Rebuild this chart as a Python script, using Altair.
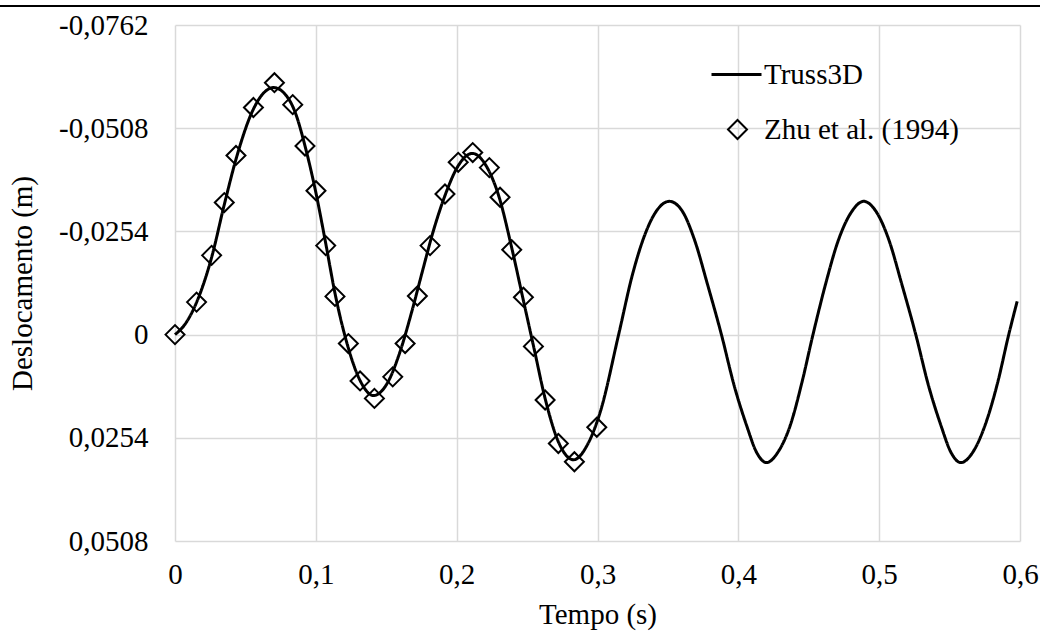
import altair as alt
import pandas as pd

# Zhu et al. (1994) reference points (time s, displacement m)
zhu_t = [0.0, 0.0153, 0.026, 0.035, 0.0433, 0.0557, 0.0706, 0.0836, 0.0923, 0.1001,
         0.107, 0.1136, 0.1231, 0.1314, 0.1416, 0.1546, 0.1634, 0.1721, 0.1811, 0.1917,
         0.2011, 0.2114, 0.2232, 0.2308, 0.2391, 0.2474, 0.2545, 0.2628, 0.2722, 0.2836,
         0.2995]
zhu_v = [0.0, -0.0080, -0.0195, -0.0325, -0.0441, -0.0559, -0.0620, -0.0566, -0.0464, -0.0354,
         -0.0219, -0.0094, 0.0022, 0.0114, 0.0157, 0.0104, 0.0022, -0.0095, -0.0219, -0.0346,
         -0.0424, -0.0448, -0.0411, -0.0338, -0.0209, -0.0092, 0.0029, 0.0161, 0.0268, 0.0313,
         0.0228]

# Truss3D curve (time s, displacement m)
truss_t = [0.000, 0.008, 0.016, 0.026, 0.035, 0.044, 0.055, 0.063, 0.070, 0.077,
           0.085, 0.093, 0.100, 0.107, 0.114, 0.122, 0.131, 0.141, 0.151, 0.160,
           0.168, 0.176, 0.183, 0.192, 0.201, 0.211, 0.221, 0.230, 0.239, 0.247,
           0.255, 0.263, 0.272, 0.283, 0.293, 0.302, 0.315, 0.325, 0.333, 0.342,
           0.351, 0.360, 0.369, 0.378, 0.388, 0.397, 0.406, 0.413, 0.420, 0.428,
           0.437, 0.445, 0.453, 0.462, 0.471, 0.480, 0.489, 0.498, 0.507, 0.516,
           0.526, 0.535, 0.544, 0.551, 0.558, 0.566, 0.575, 0.584, 0.592, 0.598]
truss_v = [0.0000, -0.0030, -0.0085, -0.0190, -0.0320, -0.0440, -0.0550, -0.0595, -0.0608, -0.0596,
           -0.0550, -0.0455, -0.0350, -0.0225, -0.0095, 0.0020, 0.0110, 0.0150, 0.0118, 0.0040,
           -0.0055, -0.0160, -0.0250, -0.0345, -0.0415, -0.0446, -0.0415, -0.0340, -0.0215, -0.0090,
           0.0035, 0.0160, 0.0262, 0.0308, 0.0270, 0.0190, 0.0000, -0.0150, -0.0240, -0.0305,
           -0.0328, -0.0305, -0.0232, -0.0125, 0.0000, 0.0125, 0.0225, 0.0290, 0.0315, 0.0290,
           0.0222, 0.0120, 0.0000, -0.0125, -0.0232, -0.0300, -0.0328, -0.0302, -0.0232, -0.0125,
           0.0000, 0.0125, 0.0225, 0.0290, 0.0315, 0.0292, 0.0225, 0.0120, 0.0000, -0.0082]

x_ticks = [0, 0.1, 0.2, 0.3, 0.4, 0.5, 0.6]
y_ticks = [-0.0762, -0.0508, -0.0254, 0, 0.0254, 0.0508]

FONT = "Liberation Serif"
FS = 29

truss = pd.DataFrame({"t": truss_t, "v": truss_v, "serie": "Truss3D"})
zhu = pd.DataFrame({"t": zhu_t, "v": zhu_v, "serie": "Zhu et al. (1994)"})

x_enc = alt.X("t:Q",
              scale=alt.Scale(domain=[0, 0.6], nice=False, zero=False),
              axis=alt.Axis(values=x_ticks, title="Tempo (s)", labelFlush=False,
                            labelExpr="datum.value == 0 ? '0' : replace(format(datum.value, '.1f'), '.', ',')",
                            labelPadding=19, titlePadding=11))
y_enc = alt.Y("v:Q",
              scale=alt.Scale(domain=[-0.0762, 0.0508], reverse=True, nice=False, zero=False),
              axis=alt.Axis(values=y_ticks, title="Deslocamento (m)", labelFlush=False,
                            labelExpr="datum.value == 0 ? '0' : (datum.value < 0 ? '-' : '') + replace(format(abs(datum.value), '.4f'), '.', ',')",
                            labelPadding=27, titlePadding=21))

line = alt.Chart(truss).mark_line(color="black", strokeWidth=3, interpolate="monotone").encode(
    x=x_enc, y=y_enc,
    strokeDash=alt.StrokeDash("serie:N",
                              scale=alt.Scale(domain=["Truss3D"], range=[[1, 0]]),
                              legend=alt.Legend(title=None, orient="none", legendX=535, legendY=23,
                                                symbolType="stroke", symbolSize=2500,
                                                symbolStrokeWidth=3, symbolStrokeColor="black",
                                                labelOffset=1))
)

points = alt.Chart(zhu).mark_point(shape="diamond", filled=False, color="black",
                                   strokeWidth=2, size=360, opacity=1).encode(
    x="t:Q", y="v:Q",
    shape=alt.Shape("serie:N",
                    scale=alt.Scale(domain=["Zhu et al. (1994)"], range=["diamond"]),
                    legend=alt.Legend(title=None, orient="none", legendX=548, legendY=90,
                                      symbolSize=360, symbolStrokeWidth=2,
                                      symbolStrokeColor="black", symbolFillColor="transparent",
                                      labelOffset=12))
)

top_rule = alt.Chart(truss).mark_rule(color="black", strokeWidth=2).encode(
    x=alt.value(-175), x2=alt.value(865), y=alt.value(-19)
)

chart = alt.layer(line, points, top_rule).resolve_legend(
    strokeDash="independent", shape="independent"
).properties(
    width=845, height=516,
    autosize=alt.AutoSizeParams(type="none"),
    padding={"left": 175, "top": 25, "right": 20, "bottom": 94},
    background="white",
).configure_view(stroke=None).configure_axis(
    grid=True, gridColor="#d9d9d9", gridWidth=1.5, domain=False, ticks=False, tickSize=0,
    labelFont=FONT, labelFontSize=FS, labelColor="black",
    titleFont=FONT, titleFontSize=FS, titleColor="black", titleFontWeight="normal",
).configure_legend(
    labelFont=FONT, labelFontSize=FS, labelColor="black", padding=0, rowPadding=0,
    labelLimit=400,
)

chart.save("out.html", embed_options={"renderer": "svg", "actions": False})
